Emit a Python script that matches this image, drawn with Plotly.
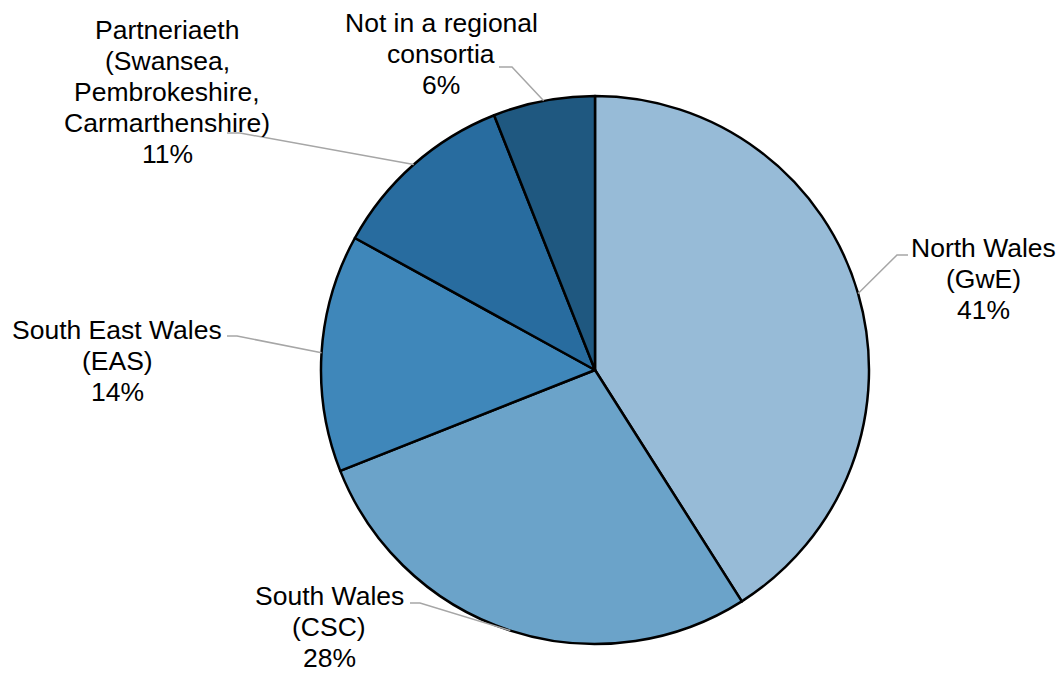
import math
import plotly.graph_objects as go

# ---- data ----
categories = [
    "North Wales (GwE)",
    "South Wales (CSC)",
    "South East Wales (EAS)",
    "Partneriaeth (Swansea, Pembrokeshire, Carmarthenshire)",
    "Not in a regional consortia",
]
label_lines = [
    ["North Wales", "(GwE)"],
    ["South Wales", "(CSC)"],
    ["South East Wales", "(EAS)"],
    ["Partneriaeth", "(Swansea,", "Pembrokeshire,", "Carmarthenshire)"],
    ["Not in a regional", "consortia"],
]
values = [41, 28, 14, 11, 6]

# ---- styling / layout ----
colors = ["#97BBD7", "#6BA3C9", "#3F87BA", "#286C9F", "#1F5880"]
W, H = 1062, 674
CX, CY, R = 595, 370, 274
FONT = "Liberation Sans, Arial, sans-serif"
FS = 26.5
PITCH = 31
# text centre x, first baseline y, leader start x, elbow x, leader y
label_layout = [
    (983, 255, 908, 897, 255),
    (329, 603, 410, 420, 603),
    (117, 337, 227, 237, 336),
    (167, 37, 227, 240, 133),
    (441, 30, 499, 512, 67),
]


def px(x):
    return x / W


def py(y):
    return 1 - y / H


fig = go.Figure(
    go.Pie(
        labels=categories,
        values=values,
        sort=False,
        direction="clockwise",
        rotation=0,
        textinfo="none",
        hoverinfo="label+percent",
        marker=dict(colors=colors, line=dict(color="#000000", width=2.5)),
        domain=dict(x=[px(CX - R), px(CX + R)], y=[py(CY + R), py(CY - R)]),
        showlegend=False,
    )
)

annotations = []
shapes = []
total = sum(values)
cum = 0
for v, lines, lay in zip(values, label_lines, label_layout):
    tx, by, lx0, lx1, ly = lay
    mid = (cum + v / 2) / total
    cum += v
    th = 2 * math.pi * mid
    ex = CX + R * math.sin(th)
    ey = CY - R * math.cos(th)
    all_lines = lines + [f"{v}%"]
    for i, t in enumerate(all_lines):
        b = by + i * PITCH
        annotations.append(
            dict(
                x=px(tx), y=py(b - 7), xref="paper", yref="paper",
                text=t, showarrow=False, xanchor="center", yanchor="middle",
                font=dict(family=FONT, size=FS, color="#000000"),
            )
        )
    shapes.append(
        dict(
            type="path", xref="paper", yref="paper",
            path=f"M {px(lx0)} {py(ly)} L {px(lx1)} {py(ly)} L {px(ex)} {py(ey)}",
            line=dict(color="#A6A6A6", width=1.5),
        )
    )

fig.update_layout(
    width=W, height=H,
    margin=dict(l=0, r=0, t=0, b=0),
    paper_bgcolor="#FFFFFF",
    plot_bgcolor="#FFFFFF",
    annotations=annotations,
    shapes=shapes,
)

fig.write_html("out.html")
